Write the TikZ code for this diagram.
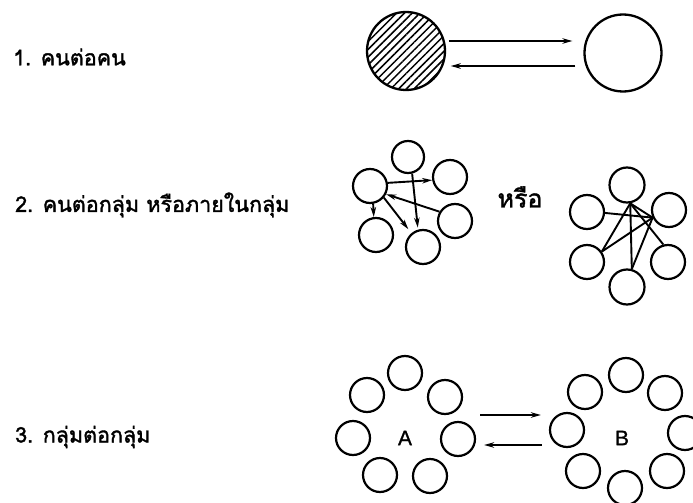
\documentclass[tikz,border=0pt]{standalone}
\usepackage{fontspec}
\newfontfamily\thaifont[Script=Thai,FakeBold=1.6]{Loma}
\newfontfamily\latinsans[FakeBold=1]{Liberation Sans}
\usetikzlibrary{arrows.meta,patterns.meta,calc}
\begin{document}
\begin{tikzpicture}[x=1pt,y=-1pt,
  ring/.style={circle,draw,line width=2.2pt,minimum size=34pt,inner sep=0pt},
  arr/.style={line width=1.9pt,-{Stealth[length=10pt,width=5.5pt]}},
  link/.style={line width=1.9pt},
  lbl/.style={anchor=west,inner sep=0pt,font=\thaifont\fontsize{21.5}{24}\selectfont}]
\useasboundingbox (0,0) rectangle (693,503);
% Row 1
\node[lbl] (t1) at (13,57) {1. คนต่อคน};
\node[circle,draw,line width=2.3pt,minimum size=78pt,inner sep=0pt,
  pattern={Lines[angle=45,distance=5.5pt,line width=1.5pt]}] (H) at (406,51) {};
\node[circle,draw,line width=2.3pt,minimum size=77pt,inner sep=0pt] (W) at (623,53) {};
\draw[arr] ([shift={(3,-10)}]H.east) -- ([shift={(-11,-12)}]W.west);
\draw[arr] ([shift={(-8,13)}]W.west) -- ([shift={(5,15)}]H.east);
% Row 2
\node[lbl] (t2) at (15,205) {2. คนต่อกลุ่ม หรือภายในกลุ่ม};
\node[inner sep=0pt,font=\thaifont\fontsize{25}{27}\selectfont] (or) at (520,197) {หรือ};
\node[ring,minimum size=32pt] (pT) at (408,157) {};
\node[ring] (pTR) at (450,177) {};
\node[ring] (pL) at (370,186) {};
\node[ring] (pR) at (455,221) {};
\node[ring] (pBL) at (376,235) {};
\node[ring] (pB) at (423,247) {};
\draw[arr] (pL.10) -- (pTR.190);
\draw[arr,shorten >=2pt] (pT.-76) -- (pB.106);
\draw[arr] (pR.149) -- (pL.-27);
\draw[arr] (pL.-80) -- (pBL.97);
\draw[arr,shorten >=5pt] (pL.-40) -- (pB.130);
\node[ring,minimum size=35pt] (qT) at (627,185) {};
\node[ring] (qL) at (587,212) {};
\node[ring] (qR) at (669,210) {};
\node[ring] (qBL) at (587,262) {};
\node[ring] (qBR) at (668,262) {};
\node[ring,minimum size=35pt] (qB) at (627,287) {};
\draw[link] (qT.-80) -- (qBL.35);
\draw[link] (qT.-80) -- (qB.75);
\draw[link] (qT.-80) -- (qR.205);
\draw[link] (qT.-80) -- (qBR.105);
\draw[link] (qR.205) -- (qL.-3);
\draw[link] (qR.205) -- (qBL.35);
\draw[link] (qR.205) -- (qB.75);
% Row 3
\node[lbl] (t3) at (15,437) {3. กลุ่มต่อกลุ่ม};
\node[ring] (a1) at (405,373) {};
\node[ring] (a2) at (367,395) {};
\node[ring] (a3) at (445,397) {};
\node[ring] (a4) at (353,438) {};
\node[ring] (a5) at (458,439) {};
\node[ring] (a6) at (380,475) {};
\node[ring] (a7) at (430,476) {};
\node[font=\latinsans\fontsize{21}{23}\selectfont,inner sep=0pt] (la) at (405,438) {A};
\node[ring] (b1) at (567,430) {};
\node[ring] (b2) at (585,392) {};
\node[ring] (b3) at (626,375) {};
\node[ring] (b4) at (665,393) {};
\node[ring] (b5) at (685,433) {};
\node[ring] (b6) at (667,471) {};
\node[ring] (b7) at (625,488) {};
\node[ring] (b8) at (583,471) {};
\node[font=\latinsans\fontsize{21}{23}\selectfont,inner sep=0pt] (lb) at (622,438) {B};
\draw[arr] ([shift={(4,-24)}]a5.east) -- ([shift={(-8,-15)}]b1.west);
\draw[arr] ([shift={(-7,15)}]b1.west) -- ([shift={(8,6)}]a5.east);
\end{tikzpicture}
\end{document}
